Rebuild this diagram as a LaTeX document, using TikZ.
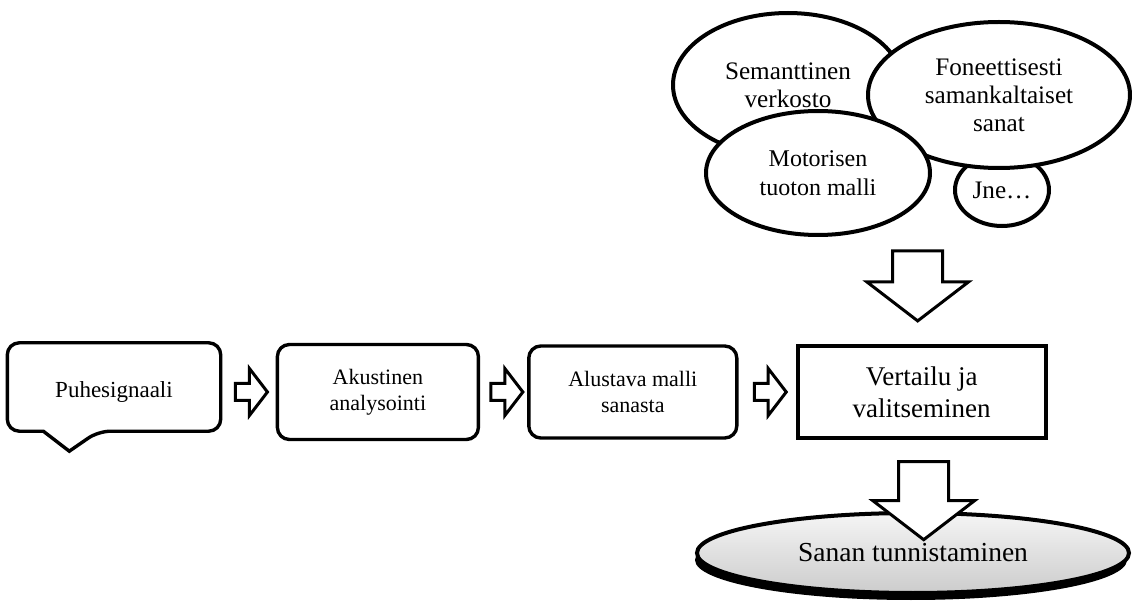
\documentclass[tikz,border=0pt]{standalone}
\usepackage{fontspec}
\setmainfont{Liberation Serif}
\usetikzlibrary{positioning,calc,shapes.geometric,shapes.arrows,shadows}

\begin{document}
\begin{tikzpicture}[x=0.5pt,y=-0.5pt]
\tikzset{
  stage/.style={draw, line width=1.7pt, rounded corners=6pt, minimum height=47.5pt,
    align=center, inner sep=0pt, font=\fontsize{11}{13}\selectfont},
  cloud/.style={ellipse, draw, fill=white, line width=2pt, inner sep=0pt,
    align=center, font=\fontsize{12.6}{14}\selectfont},
  hollow/.style={single arrow, draw, fill=white, line width=1.5pt, inner sep=3.5pt,
    single arrow head extend=7.5pt, single arrow tip angle=105, minimum height=16pt},
  bighollow/.style={hollow, inner sep=11.75pt, single arrow head extend=13pt, rotate=-90}
}
\useasboundingbox (0,0) rectangle (1132,610);

\node[cloud, minimum width=47pt, minimum height=36pt] (jne) at (1002,190) {Jne…};
\node[cloud, minimum width=115pt, minimum height=72pt] (sem) at (788,85) {Semanttinen\\verkosto};
\node[cloud, minimum width=131pt, minimum height=73pt] (fon) at (999,95) {Foneettisesti\\samankaltaiset\\sanat};
\node[cloud, minimum width=112pt, minimum height=62pt, font=\fontsize{12}{14.5}\selectfont] (mot) at (818,173) {Motorisen\\tuoton malli};

\node[stage, draw=none, minimum width=105pt, font=\fontsize{11.5}{13}\selectfont] (puhe) at (114,392) {Puhesignaali};
\draw[line width=1.7pt, rounded corners=6pt] ($(puhe.south west)+(36,-10)$) -- ($(puhe.south west)+(0,-10)$)
  -- (puhe.north west) -- (puhe.north east) -- ($(puhe.south east)+(0,-10)$)
  -- ($(puhe.south west)+(91,-10)$) [sharp corners] -- ($(puhe.south west)+(62,10)$) -- cycle;
\node[stage, minimum width=100.5pt, right=27.5pt of puhe] (aku) {Akustinen\\analysointi};
\node[stage, minimum width=104pt, minimum height=46pt, right=23.5pt of aku] (alu) {Alustava malli\\sanasta};
\node[stage, sharp corners, line width=2.2pt, minimum width=124pt, minimum height=46pt,
  font=\fontsize{13.5}{16}\selectfont, right=28.5pt of alu] (vert) {Vertailu ja\\valitseminen};

\node[hollow] (h1) at ($(puhe.east)!.5!(aku.west)$) {};
\node[hollow] (h2) at ($(aku.east)!.5!(alu.west)$) {};
\node[hollow] (h3) at ($(alu.east)!.5!(vert.west)$) {};

\node[ellipse, draw, line width=2pt, top color=gray!8, bottom color=gray!40,
  drop shadow={shadow xshift=-1pt, shadow yshift=-3.5pt, opacity=1, fill=black},
  minimum width=216pt, minimum height=40pt, font=\fontsize{13.75}{16}\selectfont] (sanan) at (913,553) {Sanan tunnistaminen};

\node[bighollow, minimum height=35pt, anchor=tip] (b1) at ($(vert.north)+(-4,-21)$) {};
\node[bighollow, minimum height=39pt, anchor=tail] (b2) at ($(vert.south)+(2,20)$) {};
\end{tikzpicture}
\end{document}
